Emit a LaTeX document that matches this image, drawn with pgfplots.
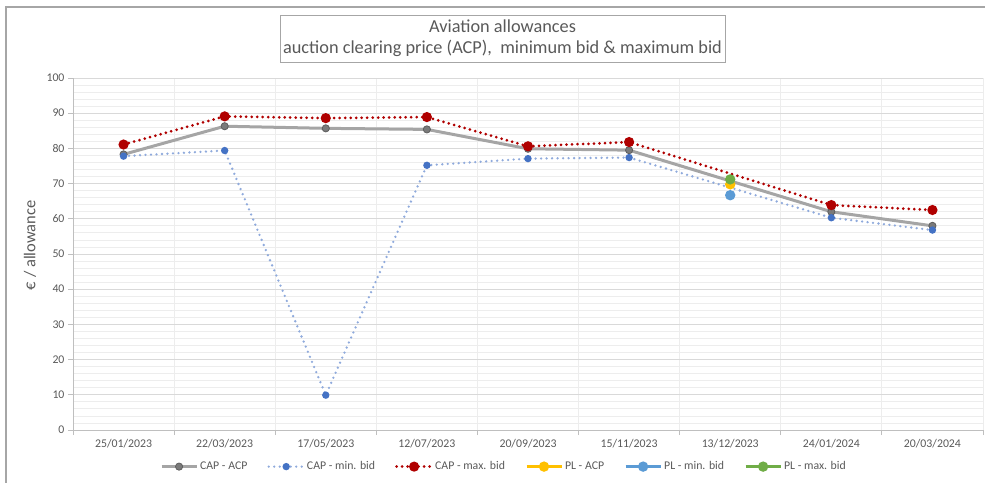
\documentclass[border=0pt]{standalone}
\usepackage{fontspec}
\setmainfont{Carlito}
\usepackage{pgfplots}
\pgfplotsset{compat=1.18}
\definecolor{txtgray}{HTML}{595959}
\definecolor{framegray}{HTML}{A6A6A6}
\definecolor{axgray}{HTML}{BFBFBF}
\definecolor{majgrid}{HTML}{D9D9D9}
\definecolor{mingrid}{HTML}{EDEDED}
\definecolor{acpline}{HTML}{A5A5A5}
\definecolor{acpmark}{HTML}{7A7A7A}
\definecolor{acpmarkd}{HTML}{5E5E5E}
\definecolor{minline}{HTML}{8FAADC}
\definecolor{minmark}{HTML}{4472C4}
\definecolor{maxred}{HTML}{B00000}
\definecolor{plyellow}{HTML}{FFC000}
\definecolor{plblue}{HTML}{5B9BD5}
\definecolor{plgreen}{HTML}{70AD47}
\begin{document}
\begin{tikzpicture}
\path[use as bounding box] (0pt,0pt) rectangle (985pt,-482pt);
\draw[framegray, line width=1.2pt] (6pt,-490pt) -- (6pt,-7pt) -- (990pt,-7pt);
\begin{axis}[
  at={(73pt,-430pt)}, anchor=south west,
  scale only axis, width=910pt, height=352pt,
  xmin=-0.5, xmax=8.5, ymin=0, ymax=100,
  axis x line*=bottom, axis y line*=left,
  axis line style={axgray, line width=1pt, -},
  xtick={-0.5,0.5,...,8.5},
  xticklabels={25/01/2023,22/03/2023,17/05/2023,12/07/2023,20/09/2023,15/11/2023,13/12/2023,24/01/2024,20/03/2024,{}},
  xticklabel style={xshift=50.56pt, yshift=-1pt},
  minor xtick={-0.5,0.5,...,8.5},
  xminorgrids,
  ytick={0,10,...,100},
  minor y tick num=4,
  ymajorgrids, yminorgrids,
  major grid style={majgrid, line width=0.8pt},
  minor grid style={mingrid, line width=0.8pt},
  tick align=outside,
  major tick length=5pt, minor tick length=0pt,
  tick style={axgray, line width=1pt},
  ticklabel style={font=\fontsize{11.8}{13}\selectfont, text=txtgray},
  /pgf/number format/assume math mode=true,
  ylabel={€ / allowance},
  every axis y label/.style={at={(axis description cs:-0.0473,0.525)}, rotate=90, anchor=center, font=\fontsize{16.5}{18}\selectfont, text=txtgray},
  legend columns=6,
  legend style={at={(0.4736,-0.104)}, anchor=center, draw=none, fill=none,
    font=\fontsize{11.8}{13}\selectfont, text=txtgray,
    /tikz/every even column/.append style={column sep=18pt}},
  legend cell align=left,
  legend image code/.code={\draw[#1, mark repeat=2, mark phase=2] plot coordinates {(0pt,0pt) (17.5pt,0pt) (35pt,0pt)};},
  clip=false,
]
% CAP - ACP
\addplot[acpline, line width=3pt, mark=*, mark size=3.6pt, mark options={fill=acpmark, draw=acpmarkd, line width=0.8pt}]
  coordinates {(0,78.3) (1,86.3) (2,85.7) (3,85.4) (4,79.9) (5,79.5) (7,62.0) (8,58.0)};
\addlegendentry{CAP - ACP}
% CAP - min. bid
\addplot[minline, line width=2.6pt, line cap=round, dash pattern=on 0pt off 5.5pt, mark=*, mark size=2.3pt, mark options={solid, fill=minmark, draw=minmark}]
  coordinates {(0,77.8) (1,79.4) (2,9.9) (3,75.2) (4,77.1) (5,77.4) (7,60.3) (8,56.8)};
\addlegendentry{CAP - min. bid}
% CAP - max. bid
\addplot[maxred, line width=3pt, line cap=round, dash pattern=on 0pt off 5.5pt, mark=*, mark size=3.5pt, mark options={solid, fill=maxred, draw=maxred}]
  coordinates {(0,81.1) (1,89.1) (2,88.6) (3,88.9) (4,80.6) (5,81.8) (7,63.9) (8,62.5)};
\addlegendentry{CAP - max. bid}
% PL series
\addplot[plyellow, line width=3pt, mark=*, mark size=3.6pt, mark options={fill=plyellow, draw=plyellow}]
  coordinates {(6,69.8)};
\addlegendentry{PL - ACP}
\addplot[plblue, line width=3pt, mark=*, mark size=3.6pt, mark options={fill=plblue, draw=plblue}]
  coordinates {(6,66.7)};
\addlegendentry{PL - min. bid}
\addplot[plgreen, line width=3pt, mark=*, mark size=3.6pt, mark options={fill=plgreen, draw=plgreen}]
  coordinates {(6,71.2)};
\addlegendentry{PL - max. bid}
\end{axis}
\node[draw=framegray, line width=1pt, minimum width=445pt, minimum height=47pt, align=center,
  font=\fontsize{18.3}{21}\selectfont, text=txtgray, inner sep=0pt] at (502.5pt,-38.5pt)
  {Aviation allowances\\auction clearing price (ACP),\ \ minimum bid \& maximum bid};
\end{tikzpicture}
\end{document}
